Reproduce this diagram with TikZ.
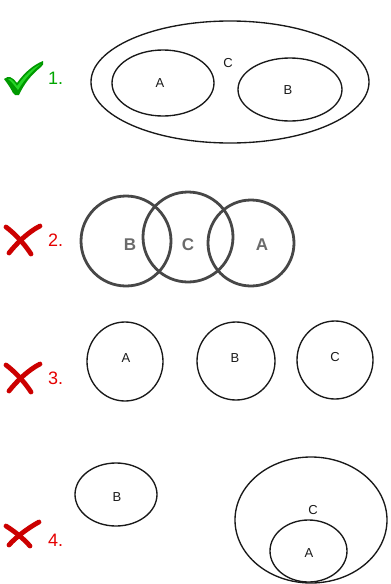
\documentclass[tikz,border=0pt]{standalone}
\usepackage{fontspec}
\setmainfont{Liberation Sans}
\begin{document}
\begin{tikzpicture}[x=1pt,y=-1pt,
  setline/.style={draw=black!90,line width=1.35pt},
  blurline/.style={draw=black!72,line width=2.8pt},
  lbl/.style={font=\fontsize{13}{13}\selectfont,text=black!90,inner sep=0pt},
  blbl/.style={font=\fontsize{17}{17}\selectfont\bfseries,text=black!58,inner sep=0pt},
  numg/.style={font=\fontsize{18}{18}\selectfont,text=green!65!black,inner sep=0pt,anchor=west},
  numr/.style={font=\fontsize{18}{18}\selectfont,text=red!90!black,inner sep=0pt,anchor=west},
  xmark/.style={draw=red!80!black,line width=4.8pt,line cap=round}]
\useasboundingbox (0,0) rectangle (391,584);
% ---- 1 ----
\fill[green!60!black] (4,79) .. controls (9,75) and (12,77) .. (17,83) .. controls (24,73) and (33,65) .. (43,61) .. controls (44,64) and (43,65) .. (41,67) .. controls (31,75) and (24,84) .. (19,95) .. controls (16,96) and (14,95) .. (13,93) .. controls (10,87) and (7,83) .. (4,79) -- cycle;
\fill[green!75!white,opacity=0.6] (8,79) .. controls (11,78) and (13,80) .. (17,86) .. controls (24,76) and (32,68) .. (41,64) .. controls (31,72) and (24,80) .. (18,90) .. controls (14,85) and (11,81) .. (8,79) -- cycle;
\node[numg] (n1) at (48,78) {1.};
\draw[setline] (230,82) ellipse (139 and 61);
\draw[setline] (163,83) ellipse (51 and 33);
\draw[setline] (290,89.5) ellipse (52 and 31.5);
\node[lbl] (a1) at (160,83) {A};
\node[lbl] (b1) at (288,90) {B};
\node[lbl] (c1) at (228,63) {C};
% ---- 2 ----
\draw[xmark] (6,227) .. controls (14,233) and (24,243) .. (31,254);
\draw[xmark] (40,226) .. controls (28,232) and (16,244) .. (9,253);
\node[numr] (n2) at (48,240) {2.};
\draw[blurline] (126,241) circle (45);
\draw[blurline] (188,237) circle (45);
\draw[blurline] (251,243) circle (43);
\node[blbl] (b2) at (130,245) {B};
\node[blbl] (c2) at (188,245) {C};
\node[blbl] (a2) at (262,245) {A};
% ---- 3 ----
\draw[xmark] (6,365) .. controls (14,371) and (24,381) .. (31,392);
\draw[xmark] (40,364) .. controls (28,370) and (16,382) .. (9,391);
\node[numr] (n3) at (48,378) {3.};
\draw[setline] (125,361.5) ellipse (38 and 39.5);
\draw[setline] (236,361) circle (39);
\draw[setline] (335,360) ellipse (38 and 39);
\node[lbl] (a3) at (126,358) {A};
\node[lbl] (b3) at (235,358) {B};
\node[lbl] (c3) at (335,357) {C};
% ---- 4 ----
\draw[xmark] (6,526) .. controls (14,531) and (23,538) .. (30,546);
\draw[xmark] (39,522) .. controls (28,528) and (16,537) .. (9,545);
\node[numr] (n4) at (48,540) {4.};
\draw[setline] (116,494.5) ellipse (41 and 31.5);
\node[lbl] (b4) at (117,497) {B};
\draw[setline] (311,520) ellipse (76 and 63);
\draw[setline] (308.5,551) ellipse (38.5 and 31);
\node[lbl] (c4) at (313,510) {C};
\node[lbl] (a4) at (309,553) {A};
\end{tikzpicture}
\end{document}
